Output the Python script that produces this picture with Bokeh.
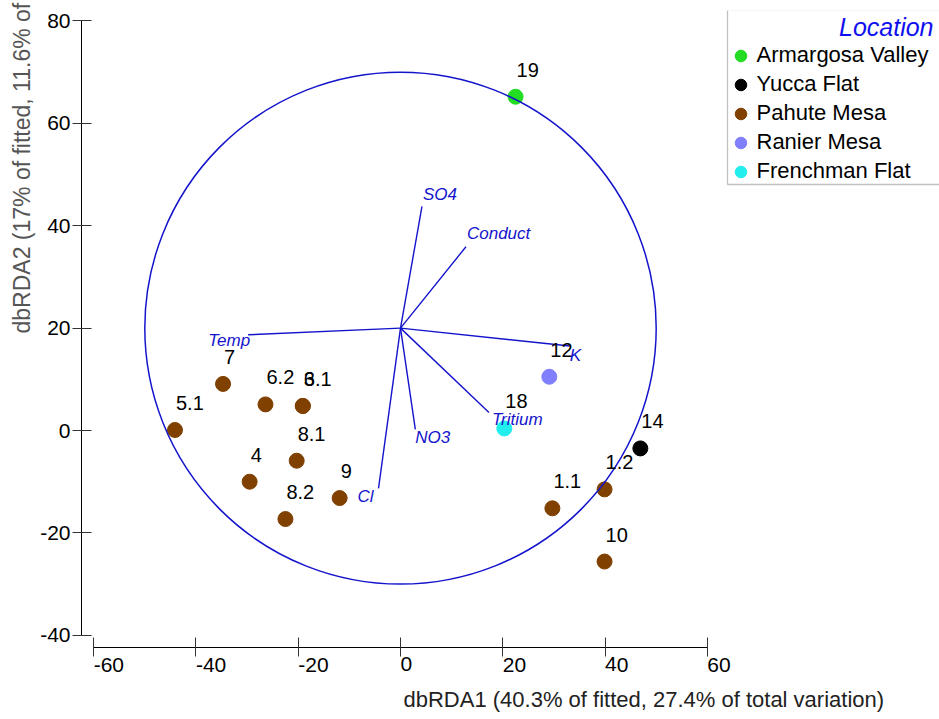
import math
from bokeh.plotting import figure
from bokeh.models import (ColumnDataSource, Range1d, FixedTicker, Label, Legend,
                          LegendItem, BoxAnnotation, Title)
from bokeh.embed import file_html
from bokeh.resources import INLINE
from bokeh.core.properties import value

# ---------------- data ----------------
samples = ["19", "14", "1.2", "1.1", "10", "7", "5.1", "6.2", "3", "6.1",
           "8.1", "4", "8.2", "9", "12", "18"]
locations = ["Armargosa Valley", "Yucca Flat", "Pahute Mesa", "Pahute Mesa",
             "Pahute Mesa", "Pahute Mesa", "Pahute Mesa", "Pahute Mesa",
             "Pahute Mesa", "Pahute Mesa", "Pahute Mesa", "Pahute Mesa",
             "Pahute Mesa", "Pahute Mesa", "Ranier Mesa", "Frenchman Flat"]
dbrda1 = [22.5, 46.9, 39.9, 29.7, 39.9, -34.7, -44.1, -26.4, -19.1, -19.1,
          -20.3, -29.5, -22.5, -11.9, 29.1, 20.3]
dbrda2 = [65.2, -3.5, -11.5, -15.2, -25.6, 9.1, 0.1, 5.1, 4.8, 4.8,
          -5.9, -10.0, -17.3, -13.2, 10.5, 0.4]

legend_order = ["Armargosa Valley", "Yucca Flat", "Pahute Mesa",
                "Ranier Mesa", "Frenchman Flat"]
location_colors = ["#22DD22", "#000000", "#7F4000", "#8080FF", "#22EEEE"]

variables = ["SO4", "Conduct", "K", "Tritium", "NO3", "Cl", "Temp"]
vec_end_x = [4.2, 12.8, 33.1, 17.3, 2.9, -4.3, -29.8]
vec_end_y = [43.8, 35.9, 16.5, 3.5, 0.2, -11.3, 18.7]
circle_center_x = 0.0
circle_center_y = 20.0
circle_radius = 50.0

x_ticks = [-60, -40, -20, 0, 20, 40, 60]
y_ticks = [-40, -20, 0, 20, 40, 60, 80]

x_title = "dbRDA1 (40.3% of fitted, 27.4% of total variation)"
y_title = "dbRDA2 (17% of fitted, 11.6% of"
legend_title = "Location"

# ---------------- styles / layout ----------------
W, H = 939, 719
FRAME_L, FRAME_T, FRAME_B = 81, 10, 647
X0_PX, X_SCALE = 400.0, 5.114
Y0_PX, Y_SCALE = 430.0, 5.119
BLUE = "#1414CC"
FONT = "Liberation Sans"

vec_label_dx = [1, 1, 0, 3, 0, -5, 2]
vec_label_dy = [-12, -13, 9, 7, 8, 8, 6]
vec_label_align = ["left", "left", "left", "left", "left", "right", "right"]

x_range = Range1d((FRAME_L - X0_PX) / X_SCALE, (W - X0_PX) / X_SCALE)
y_range = Range1d((Y0_PX - FRAME_B) / Y_SCALE, (Y0_PX - FRAME_T) / Y_SCALE)

p = figure(width=W, height=H, x_range=x_range, y_range=y_range,
           output_backend="svg", toolbar_location=None,
           min_border_left=FRAME_L, min_border_right=0,
           min_border_top=FRAME_T, min_border_bottom=H - FRAME_B)
p.outline_line_color = None
p.xgrid.visible = False
p.ygrid.visible = False
p.background_fill_color = "white"
p.border_fill_color = "white"

for ax, ticks, bounds in ((p.xaxis[0], x_ticks, (-60, 60)),
                          (p.yaxis[0], y_ticks, (-40, 80))):
    ax.ticker = FixedTicker(ticks=ticks, minor_ticks=[])
    ax.major_label_overrides = {t: str(t) for t in ticks}
    ax.bounds = bounds
    ax.axis_line_color = "#000000"
    ax.axis_line_width = 1
    ax.major_tick_line_color = "#333333"
    ax.major_tick_in = 10
    ax.major_tick_out = 9
    ax.minor_tick_in = 0
    ax.minor_tick_out = 0
    ax.major_label_text_font = FONT
    ax.major_label_text_font_size = "21px"
    ax.major_label_text_color = "#000000"

p.yaxis.major_label_standoff = 2
p.xaxis.major_label_orientation = -0.0001
p.xaxis.major_label_standoff = 8

# points by location
renderers = {}
for loc, col in zip(legend_order, location_colors):
    idx = [i for i, l in enumerate(locations) if l == loc]
    src = ColumnDataSource(dict(x=[dbrda1[i] for i in idx],
                                y=[dbrda2[i] for i in idx]))
    renderers[loc] = p.scatter("x", "y", source=src, size=15,
                               fill_color=col, line_color=col)

# correlation circle and vectors
p.ellipse(x=[circle_center_x], y=[circle_center_y], width=[2 * circle_radius],
          height=[2 * circle_radius], fill_color=None, line_color=BLUE,
          line_width=1.5)
p.segment(x0=[circle_center_x] * len(variables),
          y0=[circle_center_y] * len(variables),
          x1=vec_end_x, y1=vec_end_y, line_color=BLUE, line_width=1.4)

# sample labels
lab_src = ColumnDataSource(dict(x=dbrda1, y=dbrda2, t=samples))
p.text("x", "y", text="t", source=lab_src, x_offset=1, y_offset=-27,
       text_align="left", text_baseline="alphabetic",
       text_font=value(FONT), text_font_size="20px", text_color="#000000")

# vector labels
vsrc = ColumnDataSource(dict(x=vec_end_x, y=vec_end_y, t=variables,
                             dx=vec_label_dx, dy=vec_label_dy,
                             al=vec_label_align))
p.text("x", "y", text="t", source=vsrc, x_offset="dx", y_offset="dy",
       text_align="al", text_baseline="alphabetic",
       text_font=value(FONT), text_font_size="17px",
       text_font_style="italic", text_color=BLUE)

# legend
legend = Legend(items=[LegendItem(label=loc, renderers=[renderers[loc]])
                       for loc in legend_order],
                location=(725.5 - FRAME_L, FRAME_B - 185.5),
                glyph_width=29, glyph_height=29, label_standoff=2,
                padding=0, spacing=0, margin=0,
                border_line_color=None, background_fill_alpha=0,
                label_text_font=FONT, label_text_font_size="22px",
                label_text_color="#000000")
p.add_layout(legend)

p.add_layout(BoxAnnotation(left=727 - FRAME_L, right=W + 10 - FRAME_L,
                           top=FRAME_B - 9, bottom=FRAME_B - 184,
                           left_units="screen", right_units="screen",
                           top_units="screen", bottom_units="screen",
                           fill_color=None, fill_alpha=0,
                           line_color="#333333", line_width=1.3))
p.add_layout(Label(x=933 - FRAME_L, y=FRAME_B - 26, x_units="screen",
                   y_units="screen", text=legend_title, text_align="right",
                   text_baseline="alphabetic", text_font=FONT,
                   text_font_size="25px", text_font_style="italic",
                   text_color="#1010EE"))

# axis titles
p.add_layout(Title(text=x_title, align="left", offset=403 - FRAME_L,
                   text_font=FONT, text_font_size="22px",
                   text_font_style="normal", text_color="#222222",
                   standoff=7), "below")
p.add_layout(Title(text=y_title, align="left", offset=FRAME_B - 333,
                   text_font=FONT, text_font_size="23px",
                   text_font_style="normal", text_color="#555555",
                   standoff=6), "left")

open("out.html", "w").write(file_html(p, INLINE))
